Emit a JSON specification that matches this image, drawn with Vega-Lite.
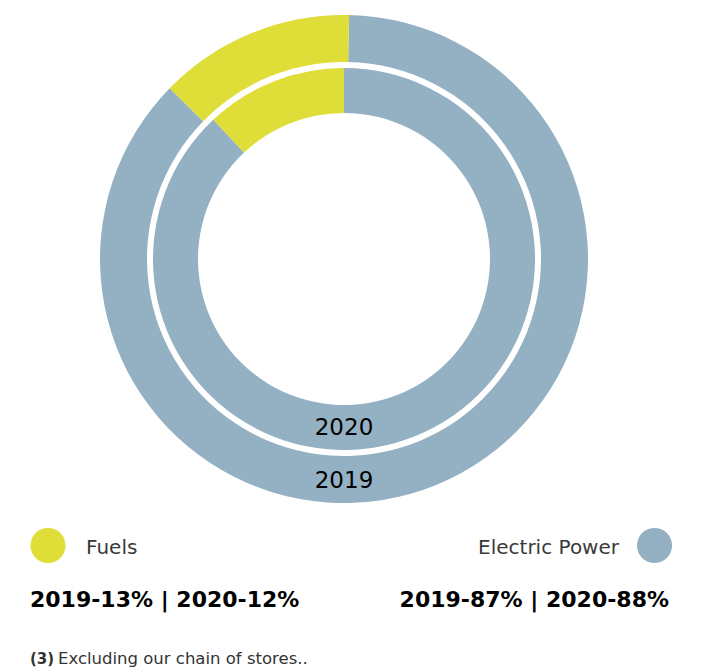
{
  "$schema": "https://vega.github.io/schema/vega-lite/v6.json",
  "width": 714,
  "height": 667,
  "autosize": {"type": "fit", "contains": "padding"},
  "padding": 0,
  "background": "white",
  "view": {"stroke": null},
  "datasets": {
    "r2019": [
      {"year": "2019", "source": "Electric Power", "pct": 87, "ord": 1},
      {"year": "2019", "source": "Fuels", "pct": 13, "ord": 2}
    ],
    "r2020": [
      {"year": "2020", "source": "Electric Power", "pct": 88, "ord": 1},
      {"year": "2020", "source": "Fuels", "pct": 12, "ord": 2}
    ]
  },
  "layer": [
    {
      "data": {"name": "r2019"},
      "mark": {"type": "arc", "radius": 244, "radius2": 197, "x": 344, "y": 259},
      "encoding": {
        "theta": {"field": "pct", "type": "quantitative", "stack": true, "scale": {"range": [0.021, 6.3042]}},
        "order": {"field": "ord", "type": "quantitative"},
        "color": {"field": "source", "type": "nominal", "legend": null,
          "scale": {"domain": ["Electric Power", "Fuels"], "range": ["#94b0c3", "#dfdd38"]}}
      }
    },
    {
      "data": {"name": "r2020"},
      "mark": {"type": "arc", "radius": 191, "radius2": 146, "x": 344, "y": 259},
      "encoding": {
        "theta": {"field": "pct", "type": "quantitative", "stack": true, "scale": {"range": [0, 6.2832]}},
        "order": {"field": "ord", "type": "quantitative"},
        "color": {"field": "source", "type": "nominal", "legend": null}
      }
    },
    {
      "data": {"values": [{"t": "2020"}]},
      "mark": {"type": "text", "x": 344, "y": 435, "align": "center", "baseline": "alphabetic", "font": "DejaVu Sans", "fontSize": 23, "fontWeight": 400, "color": "#000000"},
      "encoding": {"text": {"field": "t"}}
    },
    {
      "data": {"values": [{"t": "2019"}]},
      "mark": {"type": "text", "x": 344, "y": 488, "align": "center", "baseline": "alphabetic", "font": "DejaVu Sans", "fontSize": 23, "fontWeight": 400, "color": "#000000"},
      "encoding": {"text": {"field": "t"}}
    },
    {
      "data": {"values": [{"source": "Fuels"}]},
      "mark": {"type": "point", "shape": "circle", "filled": true, "opacity": 1, "size": 1230, "x": 48, "y": 545.5},
      "encoding": {"color": {"field": "source", "type": "nominal", "legend": null}}
    },
    {
      "data": {"values": [{"source": "Electric Power"}]},
      "mark": {"type": "point", "shape": "circle", "filled": true, "opacity": 1, "size": 1230, "x": 654.5, "y": 545.5},
      "encoding": {"color": {"field": "source", "type": "nominal", "legend": null}}
    },
    {
      "data": {"values": [{"t": "Fuels"}]},
      "mark": {"type": "text", "x": 86, "y": 554, "align": "left", "baseline": "alphabetic", "font": "DejaVu Sans", "fontSize": 20, "fontWeight": 400, "color": "#3a3a3a"},
      "encoding": {"text": {"field": "t"}}
    },
    {
      "data": {"values": [{"t": "Electric Power"}]},
      "mark": {"type": "text", "x": 619, "y": 554, "align": "right", "baseline": "alphabetic", "font": "DejaVu Sans", "fontSize": 20, "fontWeight": 400, "color": "#3a3a3a"},
      "encoding": {"text": {"field": "t"}}
    },
    {
      "data": {"values": [{"t": "2019-13% | 2020-12%"}]},
      "mark": {"type": "text", "x": 30, "y": 607, "align": "left", "baseline": "alphabetic", "font": "DejaVu Sans", "fontSize": 22, "fontWeight": 700, "color": "#000000"},
      "encoding": {"text": {"field": "t"}}
    },
    {
      "data": {"values": [{"t": "2019-87% | 2020-88%"}]},
      "mark": {"type": "text", "x": 669, "y": 607, "align": "right", "baseline": "alphabetic", "font": "DejaVu Sans", "fontSize": 22, "fontWeight": 700, "color": "#000000"},
      "encoding": {"text": {"field": "t"}}
    },
    {
      "data": {"values": [{"t": "(3)"}]},
      "mark": {"type": "text", "x": 30, "y": 664, "align": "left", "baseline": "alphabetic", "font": "DejaVu Sans", "fontSize": 15, "fontWeight": 700, "color": "#333333"},
      "encoding": {"text": {"field": "t"}}
    },
    {
      "data": {"values": [{"t": "Excluding our chain of stores.."}]},
      "mark": {"type": "text", "x": 58, "y": 664, "align": "left", "baseline": "alphabetic", "font": "DejaVu Sans", "fontSize": 16.5, "fontWeight": 400, "color": "#333333"},
      "encoding": {"text": {"field": "t"}}
    }
  ],
  "resolve": {"scale": {"theta": "independent"}}
}
